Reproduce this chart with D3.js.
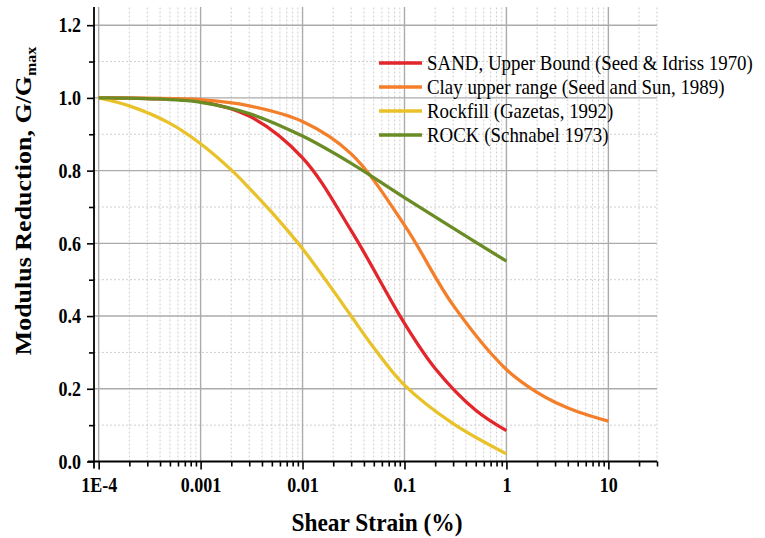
<!DOCTYPE html>
<html><head><meta charset="utf-8">
<script src="https://cdn.jsdelivr.net/npm/d3@7"></script>
<style>body{margin:0;background:#fff}svg{display:block}</style>
</head><body><svg id="c" width="765" height="538"></svg>
<script>
// ---- data ----
const seriesNames = ["SAND, Upper Bound (Seed & Idriss 1970)", "Clay upper range (Seed and Sun, 1989)", "Rockfill (Gazetas, 1992)", "ROCK (Schnabel 1973)"];
const seriesColors = ["#e2262b", "#f47f2a", "#e9c22a", "#6a8c24"];
const sandStrain = [1e-4, 3e-4, 1e-3, 3e-3, 0.01, 0.03, 0.1, 0.2, 0.5, 1];
const sandG      = [1.0, 0.998, 0.99, 0.95, 0.835, 0.635, 0.38, 0.256, 0.141, 0.085];
const clayStrain = [1e-4, 3e-4, 1e-3, 3e-3, 0.01, 0.03, 0.1, 0.3, 1, 2, 3, 5, 10];
const clayG      = [1.0, 0.999, 0.995, 0.978, 0.935, 0.846, 0.65, 0.43, 0.253, 0.19, 0.163, 0.137, 0.111];
const rockfillStrain = [1e-4, 2e-4, 5e-4, 1e-3, 2e-3, 3e-3, 5e-3, 0.01, 0.02, 0.03, 0.05, 0.1, 0.3, 1];
const rockfillG      = [1.0, 0.978, 0.93, 0.874, 0.802, 0.752, 0.685, 0.585, 0.47, 0.4, 0.313, 0.21, 0.104, 0.021];
const rockStrain = [1e-4, 3e-4, 1e-3, 3e-3, 0.01, 0.03, 0.1, 0.3, 1];
const rockG      = [1.0, 0.998, 0.988, 0.957, 0.895, 0.82, 0.726, 0.642, 0.551];
const xTickValues = [1e-4, 1e-3, 1e-2, 1e-1, 1, 10];
const xTickLabels = ["1E-4", "0.001", "0.01", "0.1", "1", "10"];
const yTickValues = [0, 0.2, 0.4, 0.6, 0.8, 1.0, 1.2];
const yMinorValues = [0.1, 0.3, 0.5, 0.7, 0.9, 1.1];
const xTitle = "Shear Strain (%)";
const yTitle = "Modulus Reduction, G/G";
const yTitleSub = "max";

const series = [
  {name: seriesNames[0], color: seriesColors[0], x: sandStrain, y: sandG},
  {name: seriesNames[1], color: seriesColors[1], x: clayStrain, y: clayG},
  {name: seriesNames[2], color: seriesColors[2], x: rockfillStrain, y: rockfillG},
  {name: seriesNames[3], color: seriesColors[3], x: rockStrain, y: rockG}
];

// ---- layout ----
const FONT = "'Liberation Serif', 'Times New Roman', serif";
const L = 94, R = 657, T = 7, B = 461.5;
const SX = 0.9; // horizontal squeeze of glyphs
const svg = d3.select("#c");
const x = d3.scaleLog().domain([9e-5, 30]).range([L, R]);
const y = d3.scaleLinear().domain([0, 1.25]).range([B, T]);

const xMinor = [];
for (let e = -4; e <= 1; e++) for (let k = 2; k <= 9; k++) { const v = k * Math.pow(10, e); if (v <= 30.0001) xMinor.push(v); }

const grid = svg.append("g");
grid.selectAll(".vmin").data(xMinor).join("line")
  .attr("x1", d => x(d)).attr("x2", d => x(d)).attr("y1", B).attr("y2", T)
  .attr("stroke", "#cfcfcf").attr("stroke-width", 1).attr("stroke-dasharray", "2,2");
grid.selectAll(".hmin").data(yMinorValues).join("line")
  .attr("x1", L).attr("x2", R).attr("y1", d => y(d)).attr("y2", d => y(d))
  .attr("stroke", "#cfcfcf").attr("stroke-width", 1).attr("stroke-dasharray", "2,2");
grid.selectAll(".vmaj").data(xTickValues).join("line")
  .attr("x1", d => x(d)).attr("x2", d => x(d)).attr("y1", B).attr("y2", T)
  .attr("stroke", "#ababab").attr("stroke-width", 1.4);
grid.selectAll(".hmaj").data(yTickValues.filter(v => v > 0)).join("line")
  .attr("x1", L).attr("x2", R).attr("y1", d => y(d)).attr("y2", d => y(d))
  .attr("stroke", "#ababab").attr("stroke-width", 1.4);

// ---- curves ----
const line = d3.line().x(d => x(d[0])).y(d => y(d[1])).curve(d3.curveCatmullRom.alpha(0.5));
series.forEach(s => {
  svg.append("path").datum(s.x.map((v, i) => [v, s.y[i]]))
    .attr("d", line).attr("fill", "none").attr("stroke", s.color)
    .attr("stroke-width", 3.3).attr("stroke-linejoin", "round");
});

// ---- axes ----
const xAxis = d3.axisBottom(x).tickValues(xTickValues).tickFormat((d, i) => xTickLabels[i]).tickSize(8).tickPadding(8);
const gx = svg.append("g").attr("transform", `translate(0,${B})`).call(xAxis);
const xMinorAxis = d3.axisBottom(x).tickValues(xMinor).tickFormat("").tickSize(5);
svg.append("g").attr("transform", `translate(0,${B})`).call(xMinorAxis).call(g => g.select(".domain").remove());
const yAxis = d3.axisLeft(y).tickValues(yTickValues).tickFormat(d3.format(".1f")).tickSize(7).tickPadding(6);
const gy = svg.append("g").attr("transform", `translate(${L},0)`).call(yAxis);
const yMinorAxis = d3.axisLeft(y).tickValues(yMinorValues).tickFormat("").tickSize(5);
svg.append("g").attr("transform", `translate(${L},0)`).call(yMinorAxis).call(g => g.select(".domain").remove());

svg.selectAll(".domain").attr("stroke", "#000").attr("stroke-width", 1.8);
svg.selectAll(".tick line").attr("stroke", "#000").attr("stroke-width", 1.6);
gx.select(".domain").attr("d", `M${L - 6},0H${R}`);
gy.select(".domain").attr("d", `M0,${B + 7}V${T}`);

gx.selectAll(".tick text").attr("font-size", 20).attr("font-weight", "bold").attr("fill", "#000")
  .attr("font-family", FONT).attr("transform", `scale(${SX},1)`);
gy.selectAll(".tick text").attr("font-size", 20).attr("font-weight", "bold").attr("fill", "#000")
  .attr("font-family", FONT).attr("dy", "0.34em")
  .attr("transform", `translate(-13,0) scale(${SX},1)`).attr("x", 0);

// ---- titles ----
svg.append("text").attr("transform", `translate(377,531) scale(${SX},1)`)
  .attr("text-anchor", "middle").attr("font-family", FONT).attr("font-size", 26).attr("font-weight", "bold").text(xTitle);
const yt = svg.append("text").attr("transform", `translate(31,201) scale(${SX},1) rotate(-90)`)
  .attr("text-anchor", "middle").attr("font-family", FONT).attr("font-size", 26).attr("font-weight", "bold");
yt.append("tspan").text(yTitle);
yt.append("tspan").attr("font-size", 16).attr("dy", 6).text(yTitleSub);

// ---- legend ----
const lg = svg.append("g");
series.forEach((s, i) => {
  const ly = 63 + i * 24;
  lg.append("line").attr("x1", 379).attr("x2", 422).attr("y1", ly).attr("y2", ly)
    .attr("stroke", s.color).attr("stroke-width", 3.3);
  lg.append("text").attr("transform", `translate(427,${ly + 7}) scale(${SX},1)`)
    .attr("font-family", FONT).attr("font-size", 21).attr("fill", "#000").text(s.name);
});
</script></body></html>
